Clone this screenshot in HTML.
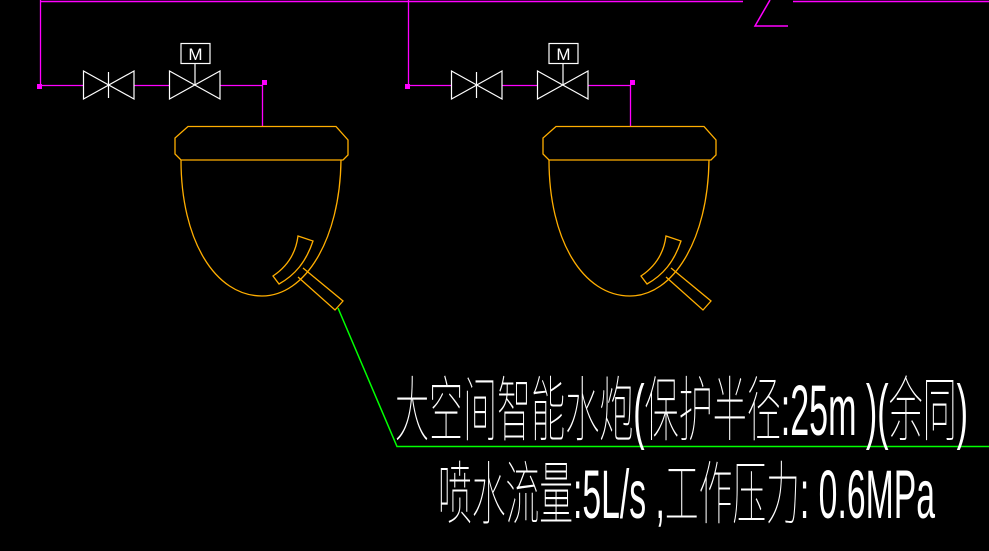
<!DOCTYPE html>
<html><head><meta charset="utf-8"><style>html,body{margin:0;padding:0;background:#000;width:989px;height:551px;overflow:hidden}</style></head>
<body>
<svg width="989" height="551" viewBox="0 0 989 551" xmlns="http://www.w3.org/2000/svg">
<g fill="none" stroke="#ff00ff" stroke-width="1.5">
<path d="M40 1.5H743M793 1.5H989"/>
<path d="M770 0L755 26H788"/>
</g>
<defs>
<g id="u">
 <g stroke="#ff00ff" stroke-width="1.3" fill="none">
  <path d="M40.5 0V86M40 85.5H83M134 85.5H169M220 85.5H262.5V126"/>
 </g>
 <rect x="37" y="84" width="5" height="5" fill="#ff00ff"/>
 <rect x="262" y="80" width="5" height="5" fill="#ff00ff"/>
 <g stroke="#fff" stroke-width="1.2" fill="none">
  <path d="M83.5 71V99L134 71V99Z"/>
  <path d="M108.5 72V98"/>
  <path d="M169.5 71V99L220 71V99Z"/>
  <path d="M195 63V85"/>
  <rect x="181" y="43.5" width="29" height="20"/>
 </g>
 <text x="195.5" y="60" fill="#fff" font-family="Liberation Sans, sans-serif" font-size="17" text-anchor="middle" font-weight="100">M</text>
 <g stroke="#ffae00" stroke-width="1.3" fill="none">
  <path d="M188 126.5H336L348 140V155L343 160H181L175 154V138Z"/>
  <path d="M181 160C181 240 215 296 262 296C305 296 340 240 341 160"/>
  <path d="M298 236L313 241C306 262 295 275 279 284L273 276C288 266 296 252 298 236Z"/>
  <path d="M303 268L343 301L335 310L298 277"/>
 </g>
</g>
</defs>
<use href="#u"/>
<use href="#u" x="368"/>
<path d="M338 308L397 446.5H989" stroke="#00ff00" stroke-width="1.5" fill="none"/>
<g fill="#fff" font-family="Liberation Sans, 'Noto Sans CJK SC', sans-serif" font-weight="100">
<g transform="translate(0,435) scale(1,1.42) translate(0,-435)">
<text x="395" y="435" font-size="50" textLength="573" lengthAdjust="spacingAndGlyphs">大空间智能水炮(保护半径:25m  )(余同)</text>
</g>
<g transform="translate(0,518) scale(1,1.38) translate(0,-518)">
<text x="438" y="518" font-size="50" textLength="497" lengthAdjust="spacingAndGlyphs">喷水流量:5L/s  ,工作压力: 0.6MPa</text>
</g>
</g>
</svg>
</body></html>
